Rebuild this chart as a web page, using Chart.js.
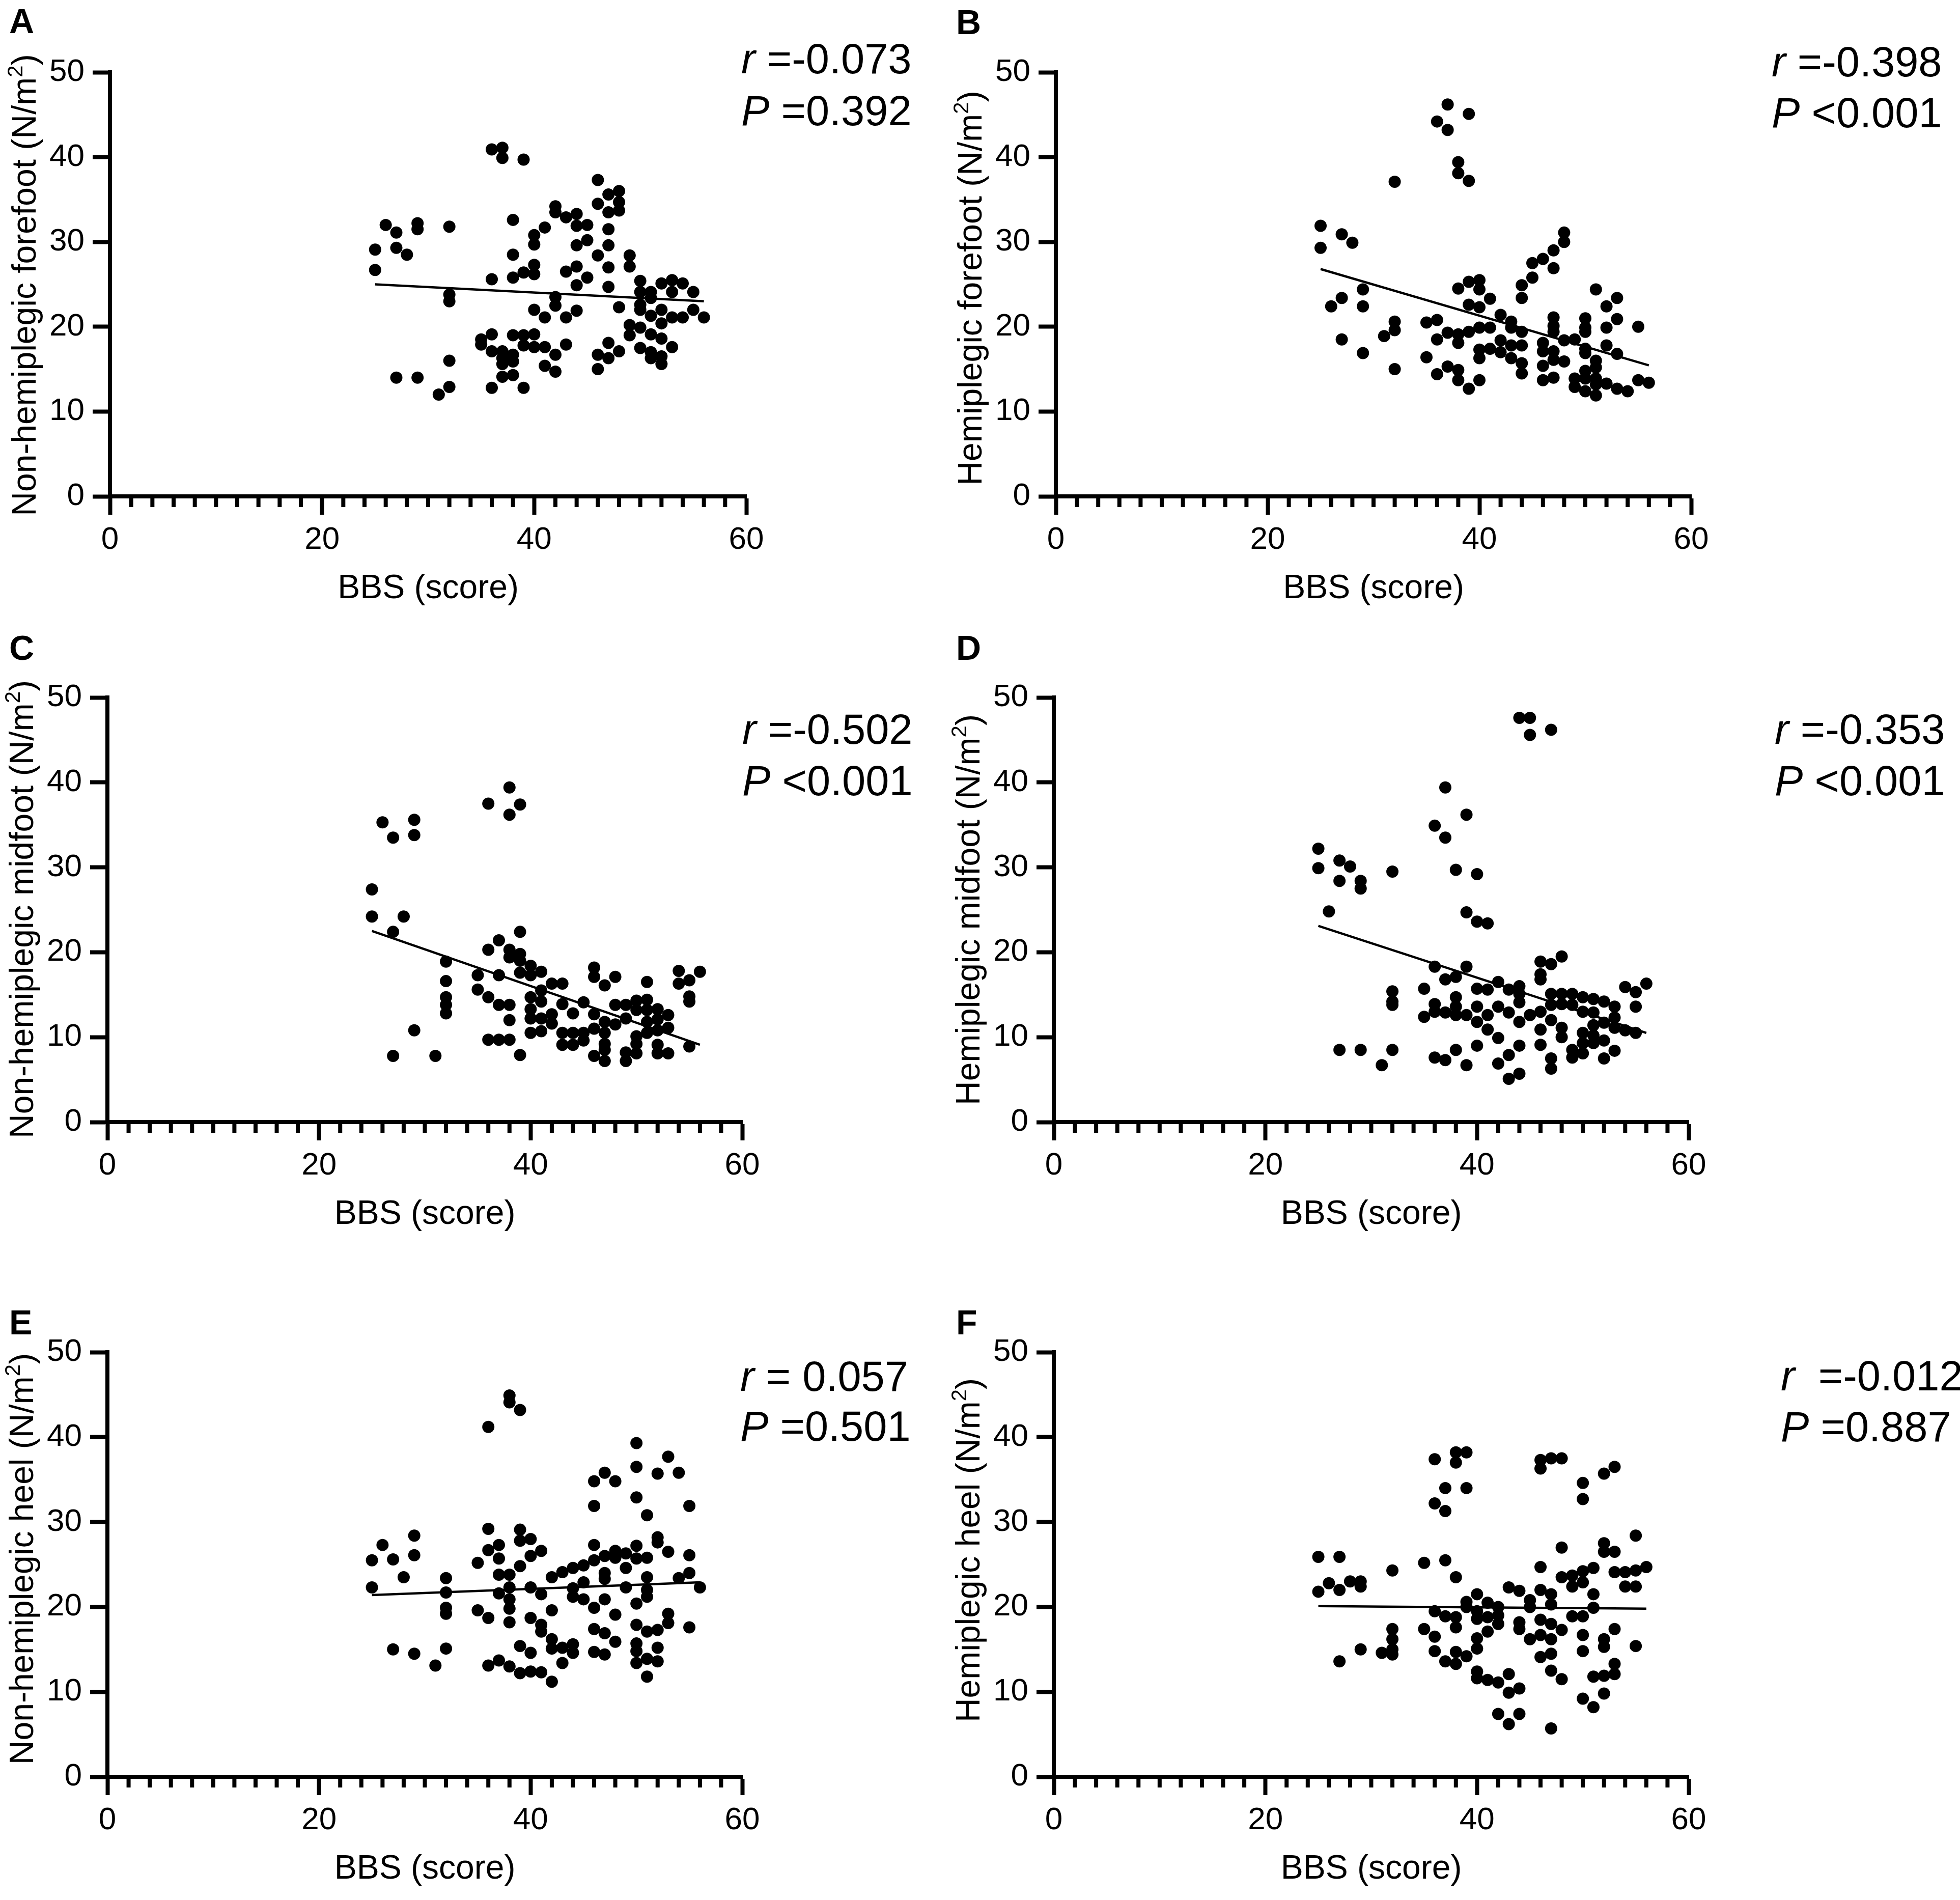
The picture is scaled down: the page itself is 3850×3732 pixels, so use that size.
<!DOCTYPE html>
<html>
<head>
<meta charset="utf-8">
<title>BBS vs plantar pressure</title>
<script src="https://cdn.jsdelivr.net/npm/chart.js@4.4.1/dist/chart.umd.min.js"></script>
<style>
  html, body { margin: 0; padding: 0; background: #fff; }
  #page { position: relative; width: 3850px; height: 3732px; background: #fff; overflow: hidden; }
  #page canvas { position: absolute; }
</style>
</head>
<body>
<div id="page"></div>
<script>
// BBS scores present in the sample (same for all six panels)
const bbsScores = [25, 26, 27, 28, 29, 31, 32, 35, 36, 37, 38, 39, 40, 41, 42, 43, 44, 45, 46, 47, 48, 49, 50, 51, 52, 53, 54, 55, 56]

// pressure (N/m2) for each BBS score above
const nonHemiForefoot = [
  [29.1, 26.7], [32.0], [31.1, 29.3, 14.0], [28.5], [32.2, 31.5, 14.0], [12.0],
  [31.8, 23.8, 23.0, 16.0, 12.9], [18.5, 17.9], [40.9, 25.6, 19.1, 17.1, 12.8],
  [41.1, 39.9, 17.1, 16.3, 15.6, 14.1], [32.6, 28.5, 25.8, 19.0, 16.7, 15.9, 14.3],
  [39.7, 26.4, 19.0, 17.8, 12.8], [30.8, 29.7, 27.3, 26.2, 22.0, 19.1, 17.6],
  [31.7, 21.1, 17.6, 15.4], [34.2, 33.5, 23.5, 22.5, 16.7, 14.7], [32.9, 26.5, 21.1, 17.9],
  [33.3, 31.9, 29.6, 27.1, 24.9, 21.9], [32.0, 30.2, 25.8], [37.3, 34.5, 28.4, 16.7, 15.0],
  [35.6, 33.5, 31.5, 29.6, 27.0, 24.7, 18.1, 16.3], [36.0, 34.7, 33.7, 22.3, 17.1],
  [28.4, 27.1, 20.2, 19.0], [25.4, 24.1, 22.6, 22.0, 19.9, 17.5], [24.1, 23.4, 21.3, 19.1, 17.0, 16.3],
  [25.1, 22.0, 20.4, 18.6, 16.5, 15.6], [25.5, 24.1, 21.1, 17.6], [25.1, 21.1], [24.1, 22.0], [21.1]
]
const hemiForefoot = [
  [31.9, 29.3], [22.4], [30.9, 23.4, 18.5], [29.9], [24.4, 22.4, 16.9], [18.9],
  [37.1, 20.6, 19.6, 15.0], [20.5, 16.4], [44.2, 20.8, 18.5, 14.4], [46.2, 43.2, 19.3, 15.3],
  [39.4, 38.1, 24.5, 19.1, 18.1, 14.9, 13.7], [45.1, 37.2, 25.3, 22.6, 19.4, 12.7],
  [25.5, 24.4, 22.3, 19.9, 17.3, 16.3, 13.7], [23.3, 19.9, 17.4], [21.4, 18.4, 17.0],
  [20.6, 19.9, 17.8, 16.3], [24.9, 23.4, 19.4, 17.8, 15.7, 14.5], [27.5, 25.8],
  [28.0, 18.1, 17.1, 15.4, 13.7], [29.0, 26.9, 21.1, 20.1, 19.4, 17.1, 16.1, 14.0],
  [31.1, 30.0, 18.4, 15.9], [18.5, 13.9, 12.9], [21.0, 19.9, 19.4, 17.4, 16.9, 14.8, 13.9, 12.4],
  [24.4, 16.0, 15.2, 13.9, 13.2, 11.9], [22.4, 19.9, 17.8, 13.3], [23.4, 20.9, 16.8, 12.7],
  [12.4], [20.0, 13.7], [13.4]
]
const nonHemiMidfoot = [
  [27.4, 24.2], [35.3], [33.5, 22.4, 7.8], [24.2], [35.6, 33.8, 10.8], [7.8],
  [18.9, 16.6, 14.7, 13.8, 12.8], [17.3, 15.6], [37.5, 20.3, 14.7, 9.7], [21.4, 17.3, 13.8, 9.7],
  [39.4, 36.2, 20.3, 19.4, 13.8, 12.0, 9.7], [37.4, 22.4, 19.8, 19.0, 17.6, 7.9],
  [18.4, 17.3, 14.7, 13.3, 12.2, 10.5], [17.7, 15.5, 14.2, 12.2, 10.7], [16.3, 12.7, 11.6],
  [16.3, 13.9, 10.5, 9.1], [12.8, 10.5, 9.1], [14.1, 10.5, 9.6], [18.2, 17.1, 12.7, 11.0, 7.8],
  [16.1, 11.8, 10.5, 9.2, 8.5, 7.2], [17.1, 13.8, 11.5], [13.8, 12.2, 8.2, 7.2],
  [14.3, 13.2, 10.1, 9.2, 8.1], [16.5, 14.4, 13.2, 11.8, 10.5], [13.3, 12.1, 10.8, 9.1, 8.1],
  [12.6, 11.1, 8.1], [17.8, 16.3], [16.7, 14.8, 14.2, 8.9], [17.7]
]
const hemiMidfoot = [
  [32.2, 29.9], [24.8], [30.8, 28.4, 8.5], [30.1], [28.4, 27.5, 8.5], [6.7],
  [29.5, 15.4, 14.2, 13.8, 8.5], [15.7, 12.4], [34.9, 18.3, 13.9, 13.0, 7.6], [39.4, 33.5, 16.8, 12.9, 7.3],
  [29.7, 17.1, 14.7, 13.6, 12.6, 8.5], [36.2, 24.7, 18.3, 12.6, 6.7], [29.2, 23.6, 15.7, 13.6, 11.8, 9.0],
  [23.4, 15.6, 12.6, 10.9], [16.5, 13.6, 9.9, 6.9], [15.6, 12.9, 7.9, 5.1],
  [47.6, 16.0, 15.1, 14.1, 11.8, 9.0, 5.7], [47.6, 45.6, 12.6], [18.9, 17.4, 16.8, 13.0, 10.9, 9.1],
  [46.2, 18.6, 15.1, 13.8, 12.0, 7.5, 6.3], [19.5, 15.1, 13.9, 11.1, 10.0], [15.1, 13.8, 8.5, 7.6],
  [14.7, 13.0, 10.5, 9.3, 8.1], [14.5, 12.9, 11.4, 10.2, 9.3], [14.2, 11.7, 9.6, 7.5],
  [13.6, 12.3, 11.1, 8.4], [15.9, 10.8], [15.3, 13.6, 10.5], [16.3]
]
const nonHemiHeel = [
  [25.5, 22.3], [27.3], [25.6, 15.0], [23.5], [28.4, 26.1, 14.5], [13.1],
  [23.4, 21.7, 19.9, 19.2, 15.1], [25.2, 19.6], [41.2, 29.2, 26.7, 18.7, 13.1], [27.3, 25.7, 23.8, 21.6, 13.7],
  [44.9, 44.1, 23.8, 22.3, 20.9, 19.8, 18.2, 13.0], [43.2, 29.1, 27.8, 24.8, 15.4, 12.2],
  [28.0, 26.0, 22.3, 18.7, 14.6, 12.4], [26.6, 21.5, 17.9, 17.1, 12.3], [23.5, 19.6, 16.2, 15.1, 11.2],
  [24.1, 15.2, 13.4], [24.6, 22.2, 21.2, 15.6, 14.6], [24.9, 22.9, 20.9],
  [34.8, 31.9, 27.3, 25.5, 19.9, 17.4, 14.7], [35.8, 26.0, 24.0, 23.3, 20.9, 16.9, 14.4],
  [34.8, 26.6, 25.8, 19.1, 15.9], [26.3, 24.6, 22.3],
  [39.3, 36.5, 32.9, 27.2, 25.7, 20.4, 17.9, 15.7, 14.8, 13.4],
  [30.8, 25.8, 23.5, 22.0, 21.2, 17.1, 13.9, 11.8], [35.7, 28.2, 27.6, 17.3, 15.2, 13.6],
  [37.7, 26.5, 19.2, 18.1], [35.8, 23.4], [31.9, 26.1, 24.0, 17.6], [22.3]
]
const hemiHeel = [
  [25.9, 21.8], [22.8], [25.9, 22.0, 13.6], [23.0], [23.0, 22.4, 15.0], [14.6],
  [24.3, 17.4, 16.2, 15.0, 14.4], [25.2, 17.4], [37.4, 32.2, 19.5, 16.5, 14.8], [34.0, 31.3, 25.5, 18.9, 13.6],
  [38.2, 37.0, 23.5, 18.8, 17.6, 14.7, 13.3], [38.2, 34.0, 20.6, 20.0, 14.2],
  [21.5, 19.5, 18.6, 16.3, 15.1, 12.4, 11.6], [20.5, 18.8, 17.1, 11.4], [20.0, 19.0, 18.0, 11.1, 7.4],
  [22.3, 12.1, 9.9, 6.2], [21.9, 18.2, 17.4, 10.4, 7.4], [20.8, 20.0, 16.2],
  [37.3, 36.3, 24.7, 22.0, 18.5, 16.7, 14.1], [37.5, 21.5, 20.3, 18.0, 16.2, 14.5, 12.5, 5.7],
  [37.5, 27.0, 23.5, 17.3, 11.5], [23.7, 22.4, 18.9], [34.6, 32.7, 24.2, 22.9, 18.9, 16.7, 14.8, 9.2],
  [24.6, 21.5, 19.9, 11.8, 8.2], [35.7, 27.5, 26.5, 16.2, 15.3, 11.9, 9.8],
  [36.5, 26.5, 24.1, 17.4, 13.3, 12.1], [24.1, 22.4], [28.4, 24.3, 22.4, 15.4], [24.7]
]

// regression lines: x range and fitted y at both ends
const fitRange = [25, 56]
const fitNonHemiForefoot = [25.0, 23.0]
const fitHemiForefoot = [26.8, 15.45]
const fitNonHemiMidfoot = [22.5, 9.1]
const fitHemiMidfoot = [23.1, 10.5]
const fitNonHemiHeel = [21.4, 22.9]
const fitHemiHeel = [20.1, 19.8]

// axis ticks
const xTicks = [0, 20, 40, 60]
const yTicks = [0, 10, 20, 30, 40, 50]

const FONT = '"Liberation Sans", Arial, Helvetica, sans-serif'
const YW = 160 // fixed width of y scale box
const XH = 140 // fixed height of x scale box
const AXIS_W = 8

const panels = [
  { letter: 'A', box: [0, 0, 1840, 1210], plot: [216, 1466, 142, 975], letterAt: [18, 16],
    yTitle: 'Non-hemiplegic forefoot', yMid: 560, values: nonHemiForefoot, fit: fitNonHemiForefoot,
    stats: [['r', ' =-0.073'], ['P', ' =0.392']], statX: 1456, statY: [114, 216] },
  { letter: 'B', box: [1840, 0, 2010, 1210], plot: [2074, 3322, 142, 975], letterAt: [1878, 18],
    yTitle: 'Hemiplegic forefoot', yMid: 566, values: hemiForefoot, fit: fitHemiForefoot,
    stats: [['r', ' =-0.398'], ['P', ' <0.001']], statX: 3480, statY: [120, 220] },
  { letter: 'C', box: [0, 1210, 1840, 1260], plot: [211, 1458, 1370, 2204], letterAt: [18, 1247],
    yTitle: 'Non-hemiplegic midfoot', yMid: 1786, values: nonHemiMidfoot, fit: fitNonHemiMidfoot,
    stats: [['r', ' =-0.502'], ['P', ' <0.001']], statX: 1458, statY: [1431, 1532] },
  { letter: 'D', box: [1840, 1210, 2010, 1260], plot: [2070, 3317, 1370, 2204], letterAt: [1878, 1247],
    yTitle: 'Hemiplegic midfoot', yMid: 1787, values: hemiMidfoot, fit: fitHemiMidfoot,
    stats: [['r', ' =-0.353'], ['P', ' <0.001']], statX: 3486, statY: [1431, 1532] },
  { letter: 'E', box: [0, 2470, 1840, 1262], plot: [211, 1458, 2656, 3490], letterAt: [18, 2572],
    yTitle: 'Non-hemiplegic heel', yMid: 3062, values: nonHemiHeel, fit: fitNonHemiHeel,
    stats: [['r', ' = 0.057'], ['P', ' =0.501']], statX: 1454, statY: [2702, 2800] },
  { letter: 'F', box: [1840, 2470, 2010, 1262], plot: [2070, 3317, 2656, 3490], letterAt: [1878, 2572],
    yTitle: 'Hemiplegic heel', yMid: 3045, values: hemiHeel, fit: fitHemiHeel,
    stats: [['r', '  =-0.012'], ['P', ' =0.887']], statX: 3498, statY: [2701, 2801] }
]

// texts, minor ticks and panel letters
const decorPlugin = {
  id: 'decor',
  afterDraw (chart, args, opts) {
    const p = opts.panel
    if (!p) return
    const ctx = chart.ctx
    const bx = p.box[0]
    const by = p.box[1]
    const xs = chart.scales.x
    const ys = chart.scales.y
    ctx.save()

    // minor ticks every 2 on the x axis
    const y0 = ys.getPixelForValue(0)
    ctx.strokeStyle = '#000'
    ctx.lineWidth = AXIS_W
    for (let v = 2; v < 60; v += 2) {
      if (v % 20 === 0) continue
      const px = xs.getPixelForValue(v)
      ctx.beginPath()
      ctx.moveTo(px, y0)
      ctx.lineTo(px, y0 + 21)
      ctx.stroke()
    }

    ctx.fillStyle = '#000'
    ctx.textAlign = 'left'
    ctx.textBaseline = 'alphabetic'

    // panel letter
    ctx.font = 'bold 68px ' + FONT
    ctx.fillText(p.letter, p.letterAt[0] - bx, p.letterAt[1] - by + 49)

    // x title
    ctx.font = '66px ' + FONT
    ctx.textAlign = 'center'
    ctx.fillText('BBS (score)', (xs.left + xs.right) / 2, y0 + 200)

    // y title with superscript
    ctx.save()
    ctx.translate(p.plot[0] - 146 - bx, p.yMid - by)
    ctx.rotate(-Math.PI / 2)
    ctx.textAlign = 'left'
    const a = p.yTitle + ' (N/m'
    ctx.font = '66px ' + FONT
    const wa = ctx.measureText(a).width
    const wc = ctx.measureText(')').width
    ctx.font = '42px ' + FONT
    const wb = ctx.measureText('2').width
    const start = -(wa + wb + wc) / 2
    ctx.font = '66px ' + FONT
    ctx.fillText(a, start, 0)
    ctx.fillText(')', start + wa + wb, 0)
    ctx.font = '42px ' + FONT
    ctx.fillText('2', start + wa, -26)
    ctx.restore()

    // r and P
    ctx.textAlign = 'left'
    p.stats.forEach(([sym, rest], i) => {
      const base = p.statY[i] - by + 30
      const sx = p.statX - bx
      ctx.font = 'italic 83px ' + FONT
      ctx.fillText(sym, sx, base)
      const w = ctx.measureText(sym).width
      ctx.font = '83px ' + FONT
      ctx.fillText(rest, sx + w, base)
    })
    ctx.restore()
  }
}

const page = document.getElementById('page')

panels.forEach(p => {
  const [cx, cy, cw, ch] = p.box
  const [pl, pr, pt, pb] = p.plot
  const canvas = document.createElement('canvas')
  canvas.width = cw
  canvas.height = ch
  canvas.style.left = cx + 'px'
  canvas.style.top = cy + 'px'
  page.appendChild(canvas)

  const points = bbsScores.flatMap((s, i) => p.values[i].map(v => ({ x: s, y: v })))
  const fitLine = fitRange.map((x, i) => ({ x, y: p.fit[i] }))

  new Chart(canvas.getContext('2d'), {
    type: 'scatter',
    data: {
      datasets: [
        {
          data: points,
          backgroundColor: '#000',
          borderWidth: 0,
          pointRadius: 12,
          pointHoverRadius: 12
        },
        {
          type: 'line',
          data: fitLine,
          borderColor: '#000',
          borderWidth: 4.5,
          pointRadius: 0,
          fill: false,
          tension: 0
        }
      ]
    },
    options: {
      responsive: false,
      animation: false,
      devicePixelRatio: 1,
      events: [],
      layout: {
        padding: {
          left: pl - cx - YW,
          right: cx + cw - pr,
          top: pt - cy,
          bottom: cy + ch - pb - XH
        }
      },
      plugins: {
        legend: { display: false },
        tooltip: { enabled: false },
        decor: { panel: p }
      },
      scales: {
        x: {
          type: 'linear',
          min: 0,
          max: 60,
          afterFit: scale => { scale.height = XH },
          afterBuildTicks: scale => { scale.ticks = xTicks.map(v => ({ value: v })) },
          border: { display: true, color: '#000', width: AXIS_W },
          grid: { display: true, drawOnChartArea: false, drawTicks: true, tickLength: 36, tickWidth: AXIS_W, tickColor: '#000' },
          ticks: { color: '#000', font: { family: FONT, size: 62 }, padding: 13, maxRotation: 0 }
        },
        y: {
          type: 'linear',
          min: 0,
          max: 50,
          afterFit: scale => { scale.width = YW },
          afterBuildTicks: scale => { scale.ticks = yTicks.map(v => ({ value: v })) },
          border: { display: true, color: '#000', width: AXIS_W },
          grid: { display: true, drawOnChartArea: false, drawTicks: true, tickLength: 34, tickWidth: AXIS_W, tickColor: '#000' },
          ticks: { color: '#000', font: { family: FONT, size: 62 }, padding: 16 }
        }
      }
    },
    plugins: [decorPlugin]
  })
})
</script>
</body>
</html>
